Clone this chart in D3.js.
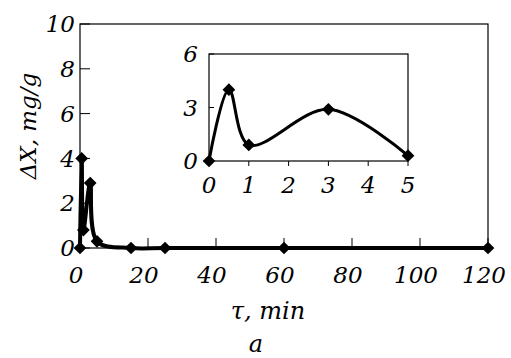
<!DOCTYPE html>
<html>
<head>
<meta charset="utf-8">
<script src="https://cdn.jsdelivr.net/npm/d3@7"></script>
<style>
  body { margin: 0; background: #fff; }
</style>
</head>
<body>
<div class="svg_container"></div>
<script>
// Data
var tauMin = [0, 0.5, 1, 3, 5, 15, 25, 60, 120];
var deltaX = [0, 4.0, 0.8, 2.9, 0.3, 0, 0, 0, 0];
var insetTau = [0, 0.5, 1, 3, 5];
var insetDeltaX = [0, 4.0, 0.9, 2.9, 0.3];
var mainXTicks = [0, 20, 40, 60, 80, 100, 120];
var mainYTicks = [0, 2, 4, 6, 8, 10];
var insetXTicks = [0, 1, 2, 3, 4, 5];
var insetYTicks = [0, 3, 6];

var W = 511, H = 358;
var FONT = 23;
var FAMILY = "DejaVu Serif, serif";

var svg = d3.select("div.svg_container")
    .append("svg")
    .attr("width", W)
    .attr("height", H)
    .attr("font-family", FAMILY)
    .attr("font-style", "italic");

function drawSeries(g, xs, ys, x, y, lw) {
    var pts = xs.map(function(d, i) { return [d, ys[i]]; });
    var line = d3.line()
        .x(function(d) { return x(d[0]); })
        .y(function(d) { return y(d[1]); })
        .curve(d3.curveCatmullRom.alpha(0.5));
    g.append("path")
        .attr("d", line(pts))
        .attr("fill", "none")
        .attr("stroke", "#000")
        .attr("stroke-width", lw)
        .attr("stroke-linejoin", "round");
    // diamond markers
    g.selectAll("path.marker")
        .data(pts)
        .enter()
        .append("path")
        .attr("class", "marker")
        .attr("d", d3.symbol().type(d3.symbolSquare).size(81))
        .attr("transform", function(d) { return "translate(" + x(d[0]) + "," + y(d[1]) + ") rotate(45)"; })
        .attr("fill", "#000");
}

// ---- main chart ----
var x = d3.scaleLinear().domain([0, 120]).range([80, 488]);
var y = d3.scaleLinear().domain([0, 10]).range([248, 24]);

var main = svg.append("g").attr("class", "main");

// frame
main.append("rect")
    .attr("x", x(0)).attr("y", y(10))
    .attr("width", x(120) - x(0)).attr("height", y(0) - y(10))
    .attr("fill", "none").attr("stroke", "#000").attr("stroke-width", 1.2);

// y ticks (inside)
main.selectAll("line.ytick")
    .data(mainYTicks)
    .enter().append("line")
    .attr("x1", x(0)).attr("x2", x(0) + 10)
    .attr("y1", function(d) { return y(d); })
    .attr("y2", function(d) { return y(d); })
    .attr("stroke", "#000").attr("stroke-width", 1);
main.selectAll("text.ylab")
    .data(mainYTicks)
    .enter().append("text")
    .attr("x", 75)
    .attr("y", function(d) { return y(d); })
    .attr("dy", "0.36em")
    .attr("text-anchor", "end")
    .attr("font-size", FONT)
    .text(function(d) { return d; });

// x ticks (inside, upwards)
main.selectAll("line.xtick")
    .data(mainXTicks)
    .enter().append("line")
    .attr("x1", function(d) { return x(d); })
    .attr("x2", function(d) { return x(d); })
    .attr("y1", y(0)).attr("y2", y(0) - 10)
    .attr("stroke", "#000").attr("stroke-width", 1);
main.selectAll("text.xlab")
    .data(mainXTicks)
    .enter().append("text")
    .attr("x", function(d) { return x(d) - 4; })
    .attr("y", 283)
    .attr("text-anchor", "middle")
    .attr("font-size", FONT)
    .text(function(d) { return d; });

drawSeries(main, tauMin, deltaX, x, y, 4);

// axis titles
svg.append("text")
    .attr("transform", "translate(36,126) rotate(-90)")
    .attr("text-anchor", "middle")
    .attr("font-size", 23)
    .text("ΔX, mg/g");
svg.append("text")
    .attr("x", 268).attr("y", 319)
    .attr("text-anchor", "middle")
    .attr("font-size", 24)
    .text("τ, min");
svg.append("text")
    .attr("x", 256).attr("y", 352)
    .attr("text-anchor", "middle")
    .attr("font-size", 24)
    .text("a");

// ---- inset ----
var xi = d3.scaleLinear().domain([0, 5]).range([209, 408]);
var yi = d3.scaleLinear().domain([0, 6]).range([161, 54]);
var inset = svg.append("g").attr("class", "inset");

inset.append("rect")
    .attr("x", xi(0)).attr("y", yi(6))
    .attr("width", xi(5) - xi(0)).attr("height", yi(0) - yi(6))
    .attr("fill", "#fff").attr("stroke", "#000").attr("stroke-width", 1.2);

inset.selectAll("line.ytick")
    .data(insetYTicks)
    .enter().append("line")
    .attr("x1", xi(0)).attr("x2", xi(0) + 5)
    .attr("y1", function(d) { return yi(d); })
    .attr("y2", function(d) { return yi(d); })
    .attr("stroke", "#000");
inset.selectAll("text.ylab")
    .data(insetYTicks)
    .enter().append("text")
    .attr("x", 198)
    .attr("y", function(d) { return yi(d); })
    .attr("dy", "0.36em")
    .attr("text-anchor", "end")
    .attr("font-size", FONT)
    .text(function(d) { return d; });

inset.selectAll("line.xtick")
    .data(insetXTicks)
    .enter().append("line")
    .attr("x1", function(d) { return xi(d); })
    .attr("x2", function(d) { return xi(d); })
    .attr("y1", yi(0)).attr("y2", yi(0) + 5)
    .attr("stroke", "#000");
inset.selectAll("text.xlab")
    .data(insetXTicks)
    .enter().append("text")
    .attr("x", function(d) { return xi(d); })
    .attr("y", 193)
    .attr("text-anchor", "middle")
    .attr("font-size", FONT)
    .text(function(d) { return d; });

drawSeries(inset, insetTau, insetDeltaX, xi, yi, 3);
</script>
</body>
</html>
